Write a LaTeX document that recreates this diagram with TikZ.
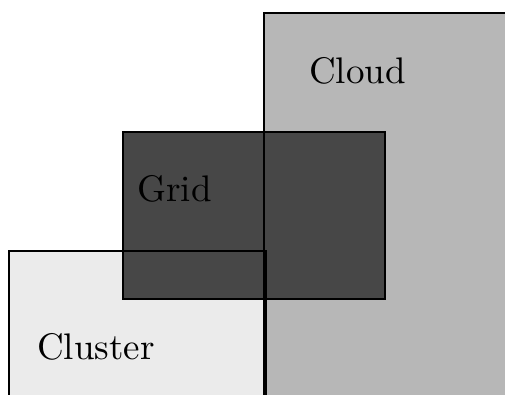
\documentclass[tikz,border=0pt]{standalone}
\usepackage{fontspec}
\newfontfamily\lblfont{lmroman10-regular}[Extension=.otf]
\definecolor{cloudgray}{HTML}{B7B7B7}
\definecolor{clustergray}{HTML}{EBEBEB}
\definecolor{gridgray}{HTML}{474747}
\tikzset{
  boxline/.style={draw=black,line width=1.4pt},
  lbl/.style={anchor=base west,inner sep=0pt,font=\lblfont\fontsize{37}{40}\selectfont,text=black}
}
\begin{document}
\begin{tikzpicture}[x=1pt,y=-1pt]
\useasboundingbox (0,0) rectangle (505,394);
\clip (0,0) rectangle (505,394);
\fill[white] (0,0) rectangle (505,394);
% fills
\fill[cloudgray] (264,13) rectangle (512,400);
\fill[clustergray] (9,251) rectangle (266,400);
\fill[gridgray] (123,132) rectangle (385,299);
% outlines
\draw[boxline] (512,13) -- (264,13) -- (264,400);
\draw[boxline] (9,400) -- (9,251) -- (266,251) -- (266,400);
\draw[boxline] (123,132) rectangle (385,299);
% labels
\node[lbl] (cloud) at (309,83) {Cloud};
\node[lbl] (grid) at (137,201) {Grid};
\node[lbl] (cluster) at (37,359) {Cluster};
\end{tikzpicture}
\end{document}
